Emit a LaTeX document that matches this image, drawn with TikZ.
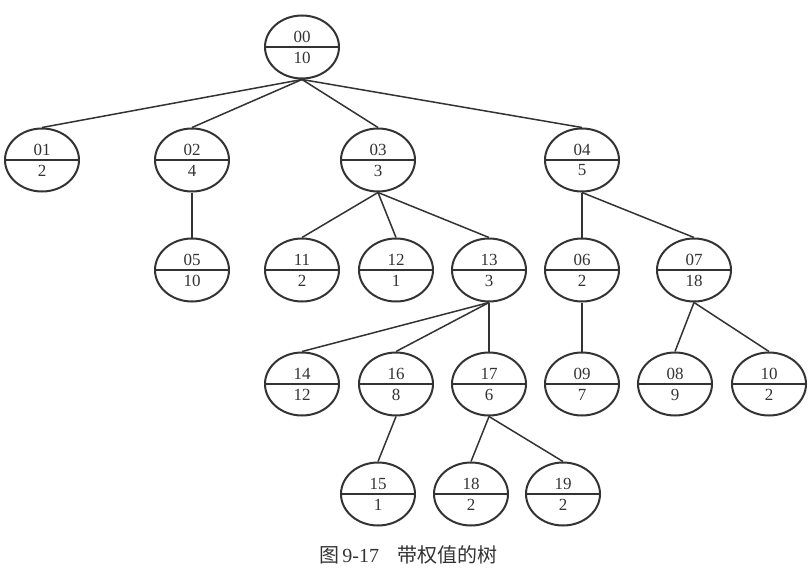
\documentclass[tikz,border=0pt]{standalone}
\usepackage{fontspec}
\setmainfont{Liberation Serif}
\newfontfamily\cjkfont{Noto Sans CJK SC}
\usetikzlibrary{shapes.geometric}
\definecolor{ink}{HTML}{333333}
\tikzset{
  tn/.style={ellipse, draw=ink, line width=2pt, minimum width=74pt, minimum height=63pt, inner sep=0pt},
  midline/.style={draw=ink, line width=1.8pt},
  edge/.style={draw=ink, line width=1.5pt},
  num/.style={inner sep=0pt, text=ink, font=\fontsize{17}{20}\selectfont},
}
\newcommand\treenode[4]{%
  \node[tn] (#1) at (#2) {};
  \draw[midline] (#1.west) -- (#1.east);
  \node[num] (#1t) at ([yshift=10.5pt]#1.center) {#3};
  \node[num] (#1b) at ([yshift=-10.5pt]#1.center) {#4};
}
\begin{document}
\begin{tikzpicture}[x=1pt,y=-1pt]
\useasboundingbox[fill=white] (0,0) rectangle (810,575);
\treenode{n00}{302,47}{00}{10}
\treenode{n01}{42,160}{01}{2}
\treenode{n02}{192,160}{02}{4}
\treenode{n03}{378,160}{03}{3}
\treenode{n04}{582,160}{04}{5}
\treenode{n05}{192,270}{05}{10}
\treenode{n11}{302,270}{11}{2}
\treenode{n12}{396,270}{12}{1}
\treenode{n13}{489,270}{13}{3}
\treenode{n06}{582,270}{06}{2}
\treenode{n07}{694,270}{07}{18}
\treenode{n14}{302,384}{14}{12}
\treenode{n16}{396,384}{16}{8}
\treenode{n17}{489,384}{17}{6}
\treenode{n09}{582,384}{09}{7}
\treenode{n08}{675,384}{08}{9}
\treenode{n10}{769,384}{10}{2}
\treenode{n15}{378,494}{15}{1}
\treenode{n18}{471,494}{18}{2}
\treenode{n19}{563,494}{19}{2}
\foreach \p/\c in {n00/n01,n00/n02,n00/n03,n00/n04,n02/n05,n03/n11,n03/n12,n03/n13,
  n04/n06,n04/n07,n13/n14,n13/n16,n13/n17,n06/n09,n07/n08,n07/n10,n16/n15,n17/n18,n17/n19}
  \draw[edge] (\p.south) -- (\c.north);
\node[inner sep=0pt, text=ink, font=\fontsize{20}{24}\selectfont] (cap) at (408,555)
  {{\cjkfont 图}\,9-17\hspace{18pt}{\cjkfont 带权值的树}};
\end{tikzpicture}
\end{document}
